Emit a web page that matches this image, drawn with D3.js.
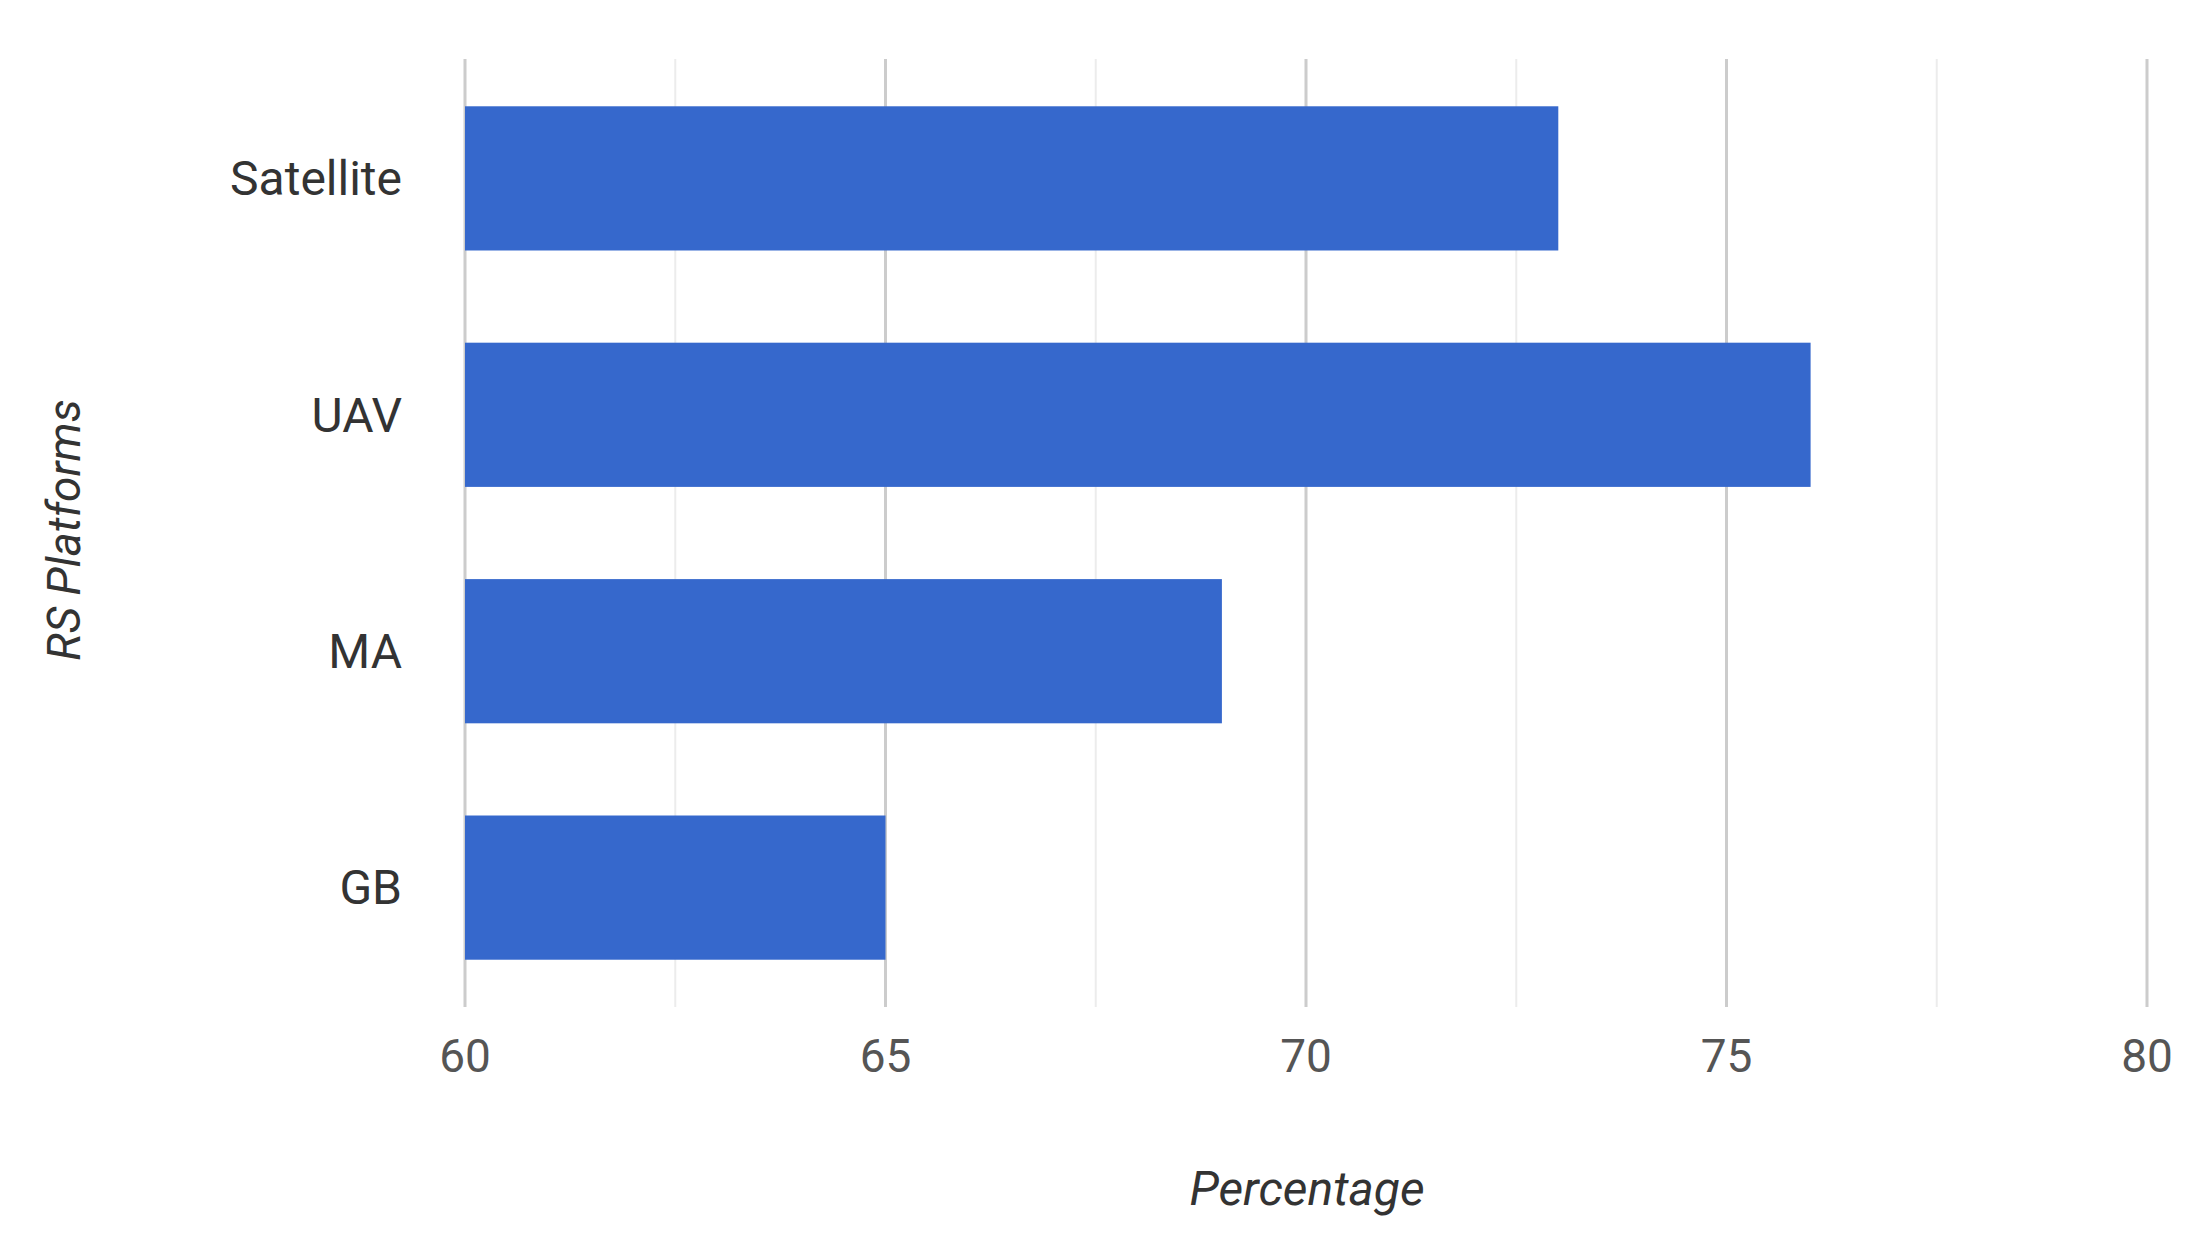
<!DOCTYPE html>
<html><head><meta charset="utf-8">
<script src="https://cdn.jsdelivr.net/npm/d3@7"></script>
<style>body{margin:0;background:#fff}</style>
</head><body>
<svg id="chart" width="2201" height="1248"></svg>
<script>
const categories = ['Satellite', 'UAV', 'MA', 'GB'];
const values = [73, 76, 69, 65];
const majorTicks = [60, 65, 70, 75, 80];
const minorTicks = [62.5, 67.5, 72.5, 77.5];

const svg = d3.select('#chart');
const font = 'Roboto, Arial, sans-serif';

const x = d3.scaleLinear().domain([60, 80]).range([465, 2147]);
const y = d3.scaleBand().domain(categories).range([59, 1007]).paddingInner(0.39).paddingOuter(0.2);

// grid
svg.selectAll('.minor').data(minorTicks).join('line')
  .attr('x1', d => x(d)).attr('x2', d => x(d))
  .attr('y1', 59).attr('y2', 1007)
  .attr('stroke', '#ececec').attr('stroke-width', 2);
svg.selectAll('.major').data(majorTicks).join('line')
  .attr('x1', d => x(d)).attr('x2', d => x(d))
  .attr('y1', 59).attr('y2', 1007)
  .attr('stroke', '#cccccc').attr('stroke-width', 3);

// bars
svg.selectAll('rect').data(categories).join('rect')
  .attr('x', x(60))
  .attr('y', d => y(d))
  .attr('width', (d, i) => x(values[i]) - x(60))
  .attr('height', y.bandwidth())
  .attr('fill', '#3668cc');

// tick labels
svg.selectAll('.xt').data(majorTicks).join('text')
  .attr('x', d => x(d)).attr('y', 1072)
  .attr('text-anchor', 'middle')
  .attr('font-family', font).attr('font-size', 46).attr('fill', '#555')
  .text(d => d);
svg.selectAll('.yt').data(categories).join('text')
  .attr('x', 402).attr('y', d => y(d) + y.bandwidth() / 2)
  .attr('dy', '0.35em').attr('text-anchor', 'end')
  .attr('font-family', font).attr('font-size', 48).attr('fill', '#333')
  .text(d => d);

// axis titles
svg.append('text')
  .attr('x', 1307).attr('y', 1205).attr('text-anchor', 'middle')
  .attr('font-family', font).attr('font-size', 48).attr('font-style', 'italic').attr('fill', '#333')
  .text('Percentage');
svg.append('text')
  .attr('transform', 'translate(80,530) rotate(-90)').attr('text-anchor', 'middle')
  .attr('font-family', font).attr('font-size', 46).attr('font-style', 'italic').attr('fill', '#333')
  .text('RS Platforms');
</script>
</body></html>
